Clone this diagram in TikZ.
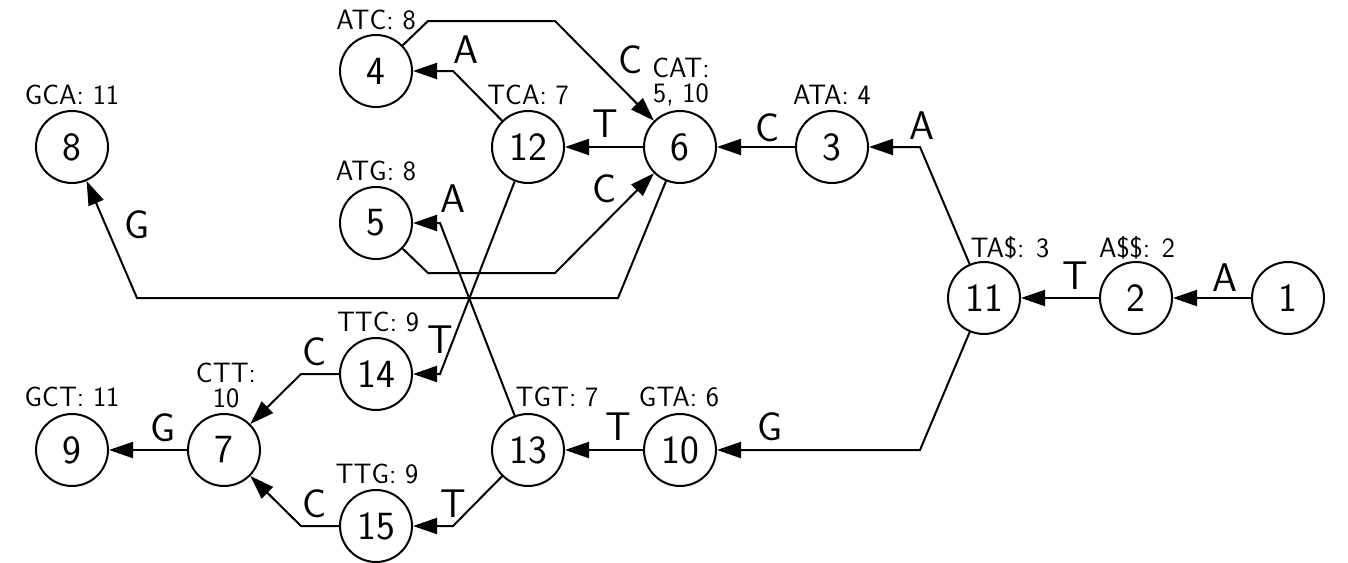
\documentclass[tikz,border=0pt]{standalone}
\usetikzlibrary{arrows.meta}
\begin{document}
\begin{tikzpicture}[x=1pt,y=-1pt,
  state/.style={circle, draw, line width=2pt, minimum size=72pt, inner sep=0pt, font=\sffamily\fontsize{40}{48}\selectfont},
  elab/.style={anchor=base, inner sep=0pt, font=\sffamily\fontsize{40}{48}\selectfont},
  xlab/.style={anchor=base, inner sep=0pt, font=\sffamily\fontsize{28}{25}\selectfont},
  xlabtwo/.style={anchor=north, inner sep=0pt, align=center, font=\sffamily\fontsize{28}{25}\selectfont},
  edge/.style={draw, line width=2pt, -{Triangle[length=24pt,width=16pt]}}]
\useasboundingbox (0,0) rectangle (1348,562);
% nodes
\node[state] (n1)  at (1288,298) {1};
\node[state] (n2)  at (1136,298) {2};
\node[state] (n11) at (984,298) {11};
\node[state] (n3)  at (832,147) {3};
\node[state] (n6)  at (680,147) {6};
\node[state] (n12) at (528,147) {12};
\node[state] (n4)  at (376,71) {4};
\node[state] (n5)  at (376,223) {5};
\node[state] (n8)  at (72,147) {8};
\node[state] (n10) at (680,450) {10};
\node[state] (n13) at (528,450) {13};
\node[state] (n14) at (376,374) {14};
\node[state] (n15) at (376,526) {15};
\node[state] (n7)  at (224,450) {7};
\node[state] (n9)  at (72,450) {9};
% node annotations
\node[xlab] (l4)  at (376,29) {ATC: 8};
\node[xlab] (l8)  at (72,104) {GCA: 11};
\node[xlab] (l12) at (528,104) {TCA: 7};
\node[xlabtwo] (l6) at (681,58) {CAT:\\5, 10};
\node[xlab] (l3)  at (832,104) {ATA: 4};
\node[xlab] (l5)  at (376,180) {ATG: 8};
\node[xlab] (l11) at (1010,257) {TA\$: 3};
\node[xlab] (l2)  at (1137,257) {A\$\$: 2};
\node[xlab] (l14) at (378,331) {TTC: 9};
\node[xlabtwo] (l7) at (226,363) {CTT:\\10};
\node[xlab] (l9)  at (72,406) {GCT: 11};
\node[xlab] (l13) at (557,406) {TGT: 7};
\node[xlab] (l10) at (679,406) {GTA: 6};
\node[xlab] (l15) at (377,483) {TTG: 9};
% edges
\draw[edge] (n1) -- (n2);
\draw[edge] (n2) -- (n11);
\draw[edge] (n11) -- (920,147) -- (n3);
\draw[edge] (n11) -- (920,450) -- (n10);
\draw[edge] (n3) -- (n6);
\draw[edge] (n6) -- (n12);
\draw[edge] (n12) -- (453,71) -- (n4);
\draw[edge] (n4) -- (428,21) -- (555,21) -- (n6);
\draw[edge] (n5) -- (428,273) -- (555,273) -- (n6);
\draw[edge] (n6) -- (618,298) -- (137,298) -- (n8);
\draw[edge] (n12) -- (440,374) -- (n14);
\draw[edge] (n13) -- (440,223) -- (n5);
\draw[edge] (n10) -- (n13);
\draw[edge] (n13) -- (453,526) -- (n15);
\draw[edge] (n14) -- (301,374) -- (n7);
\draw[edge] (n15) -- (301,526) -- (n7);
\draw[edge] (n7) -- (n9);
% edge labels
\node[elab] (e1)  at (1225,291) {A};
\node[elab] (e2)  at (1075,289) {T};
\node[elab] (e3)  at (922,139) {A};
\node[elab] (e4)  at (770,440) {G};
\node[elab] (e5)  at (768,141) {C};
\node[elab] (e6)  at (605,137) {T};
\node[elab] (e7)  at (466,63) {A};
\node[elab] (e8)  at (631,73) {C};
\node[elab] (e9)  at (605,202) {C};
\node[elab] (e10) at (137,238) {G};
\node[elab] (e11) at (453,212) {A};
\node[elab] (e12) at (440,353) {T};
\node[elab] (e13) at (618,440) {T};
\node[elab] (e14) at (453,517) {T};
\node[elab] (e15) at (315,365) {C};
\node[elab] (e16) at (315,517) {C};
\node[elab] (e17) at (163,441) {G};
\end{tikzpicture}
\end{document}
